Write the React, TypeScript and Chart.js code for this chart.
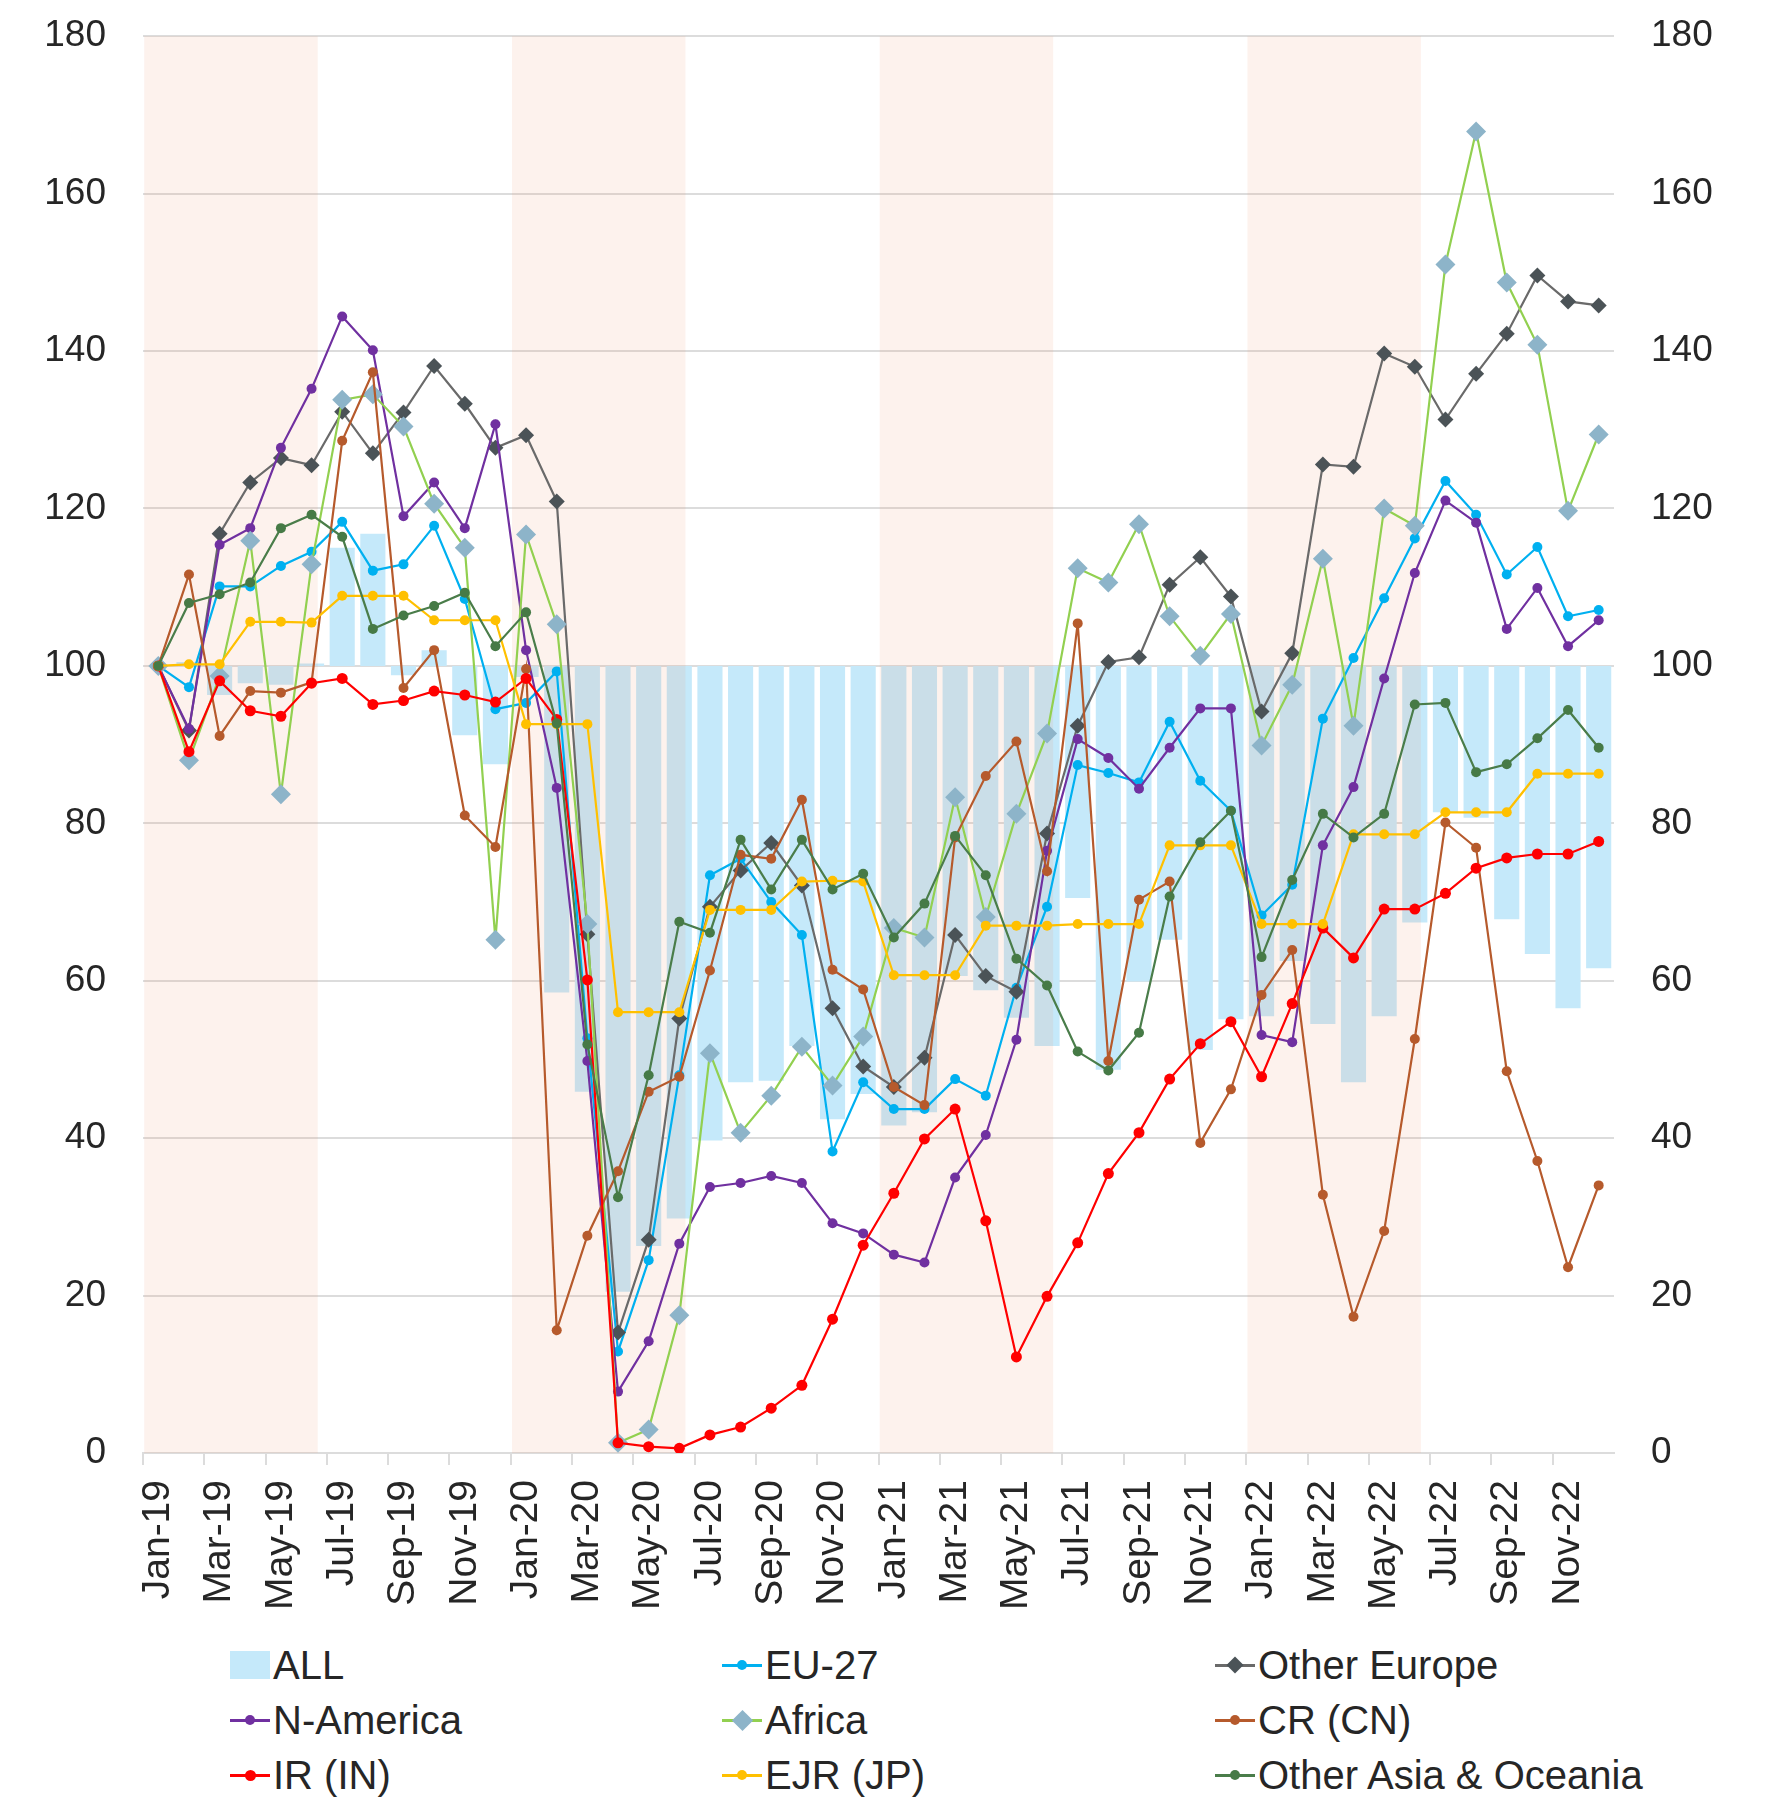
import React, { useEffect, useRef } from 'react';
import Chart from 'chart.js/auto';

// ---------------- DATA ----------------
const months = [
  'Jan-19','Feb-19','Mar-19','Apr-19','May-19','Jun-19','Jul-19','Aug-19','Sep-19','Oct-19','Nov-19','Dec-19',
  'Jan-20','Feb-20','Mar-20','Apr-20','May-20','Jun-20','Jul-20','Aug-20','Sep-20','Oct-20','Nov-20','Dec-20',
  'Jan-21','Feb-21','Mar-21','Apr-21','May-21','Jun-21','Jul-21','Aug-21','Sep-21','Oct-21','Nov-21','Dec-21',
  'Jan-22','Feb-22','Mar-22','Apr-22','May-22','Jun-22','Jul-22','Aug-22','Sep-22','Oct-22','Nov-22','Dec-22',
];

const yTicks = [0, 20, 40, 60, 80, 100, 120, 140, 160, 180];
const barBase = 100;

// shaded half-year bands (first month + length)
const bandStartMonths = ['Jan-19', 'Jan-20', 'Jan-21', 'Jan-22'];
const bandLengthMonths = 6;

const allValues = [
  100, 100.5, 96.3, 97.8, 97.6, 100.3, 115.0, 116.8, 98.8, 102.0, 91.2, 87.5,
  98.6, 58.5, 45.9, 20.5, 26.3, 29.8, 39.7, 47.1, 47.3, 51.7, 42.4, 45.6,
  41.6, 43.3, 60.6, 58.8, 55.3, 51.7, 70.5, 48.7, 59.9, 65.2, 51.2, 55.1,
  55.5, 62.5, 54.5, 47.1, 55.5, 67.4, 81.4, 80.7, 67.8, 63.4, 56.5, 61.6,
];

const eu27 = [
  100, 97.3, 110.1, 110.1, 112.7, 114.5, 118.3, 112.1, 112.9, 117.8, 108.5, 94.5,
  95.3, 99.3, 52.7, 12.9, 24.5, 48.0, 73.4, 75.5, 70.0, 65.8, 38.3, 47.1,
  43.7, 43.7, 47.5, 45.4, 59.1, 69.4, 87.4, 86.4, 85.2, 92.9, 85.4, 81.6,
  68.3, 72.2, 93.3, 101.0, 108.6, 116.2, 123.5, 119.2, 111.6, 115.1, 106.3, 107.1,
];

const otherEurope = [
  100, 91.8, 116.8, 123.3, 126.4, 125.5, 132.3, 127.0, 132.2, 138.1, 133.3, 127.7,
  129.3, 120.9, 65.9, 15.3, 27.1, 55.2, 69.4, 74.0, 77.5, 72.1, 56.5, 49.1,
  46.5, 50.2, 65.8, 60.6, 58.6, 78.7, 92.4, 100.5, 101.1, 110.3, 113.8, 108.8,
  94.2, 101.6, 125.6, 125.3, 139.7, 138.0, 131.3, 137.1, 142.2, 149.6, 146.3, 145.8,
];

const nAmerica = [
  100, 92.0, 115.4, 117.5, 127.7, 135.2, 144.4, 140.1, 119.0, 123.3, 117.5, 130.7,
  102.0, 84.5, 49.8, 7.8, 14.2, 26.6, 33.8, 34.3, 35.2, 34.3, 29.2, 27.9,
  25.2, 24.2, 35.0, 40.4, 52.5, 76.5, 90.7, 88.3, 84.4, 89.6, 94.6, 94.6,
  53.1, 52.2, 77.2, 84.6, 98.4, 111.8, 121.0, 118.2, 104.7, 109.9, 102.5, 105.8,
];

const africa = [
  100, 88.0, 98.7, 115.9, 83.7, 112.9, 133.8, 134.5, 130.4, 120.6, 115.0, 65.2,
  116.7, 105.3, 67.2, 1.3, 3.0, 17.5, 50.8, 40.7, 45.4, 51.6, 46.7, 52.9,
  66.7, 65.5, 83.3, 68.1, 81.2, 91.4, 112.4, 110.6, 118.0, 106.3, 101.3, 106.6,
  89.9, 97.6, 113.6, 92.4, 120.0, 117.8, 151.0, 167.9, 148.7, 140.8, 119.7, 129.4,
];

const crCN = [
  100, 111.6, 91.1, 96.8, 96.6, 97.9, 128.6, 137.3, 97.2, 102.0, 81.0, 77.0,
  99.6, 15.6, 27.6, 35.8, 45.9, 47.8, 61.3, 76.0, 75.5, 83.0, 61.4, 58.9,
  46.5, 44.2, 78.2, 86.0, 90.4, 73.9, 105.4, 49.8, 70.3, 72.6, 39.4, 46.2,
  58.2, 63.9, 32.8, 17.3, 28.2, 52.6, 80.1, 76.9, 48.5, 37.1, 23.6, 34.0,
];

const irIN = [
  100, 89.1, 98.1, 94.3, 93.6, 97.8, 98.4, 95.1, 95.6, 96.8, 96.3, 95.4,
  98.4, 93.2, 60.1, 1.3, 0.8, 0.6, 2.3, 3.3, 5.7, 8.6, 17.0, 26.4,
  33.0, 39.9, 43.7, 29.5, 12.2, 19.9, 26.7, 35.5, 40.7, 47.5, 52.0, 54.8,
  47.8, 57.1, 66.7, 62.9, 69.1, 69.1, 71.1, 74.3, 75.6, 76.1, 76.1, 77.7,
];

const ejrJP = [
  100, 100.2, 100.2, 105.6, 105.6, 105.5, 108.9, 108.9, 108.9, 105.8, 105.8, 105.8,
  92.6, 92.6, 92.6, 56.0, 56.0, 56.0, 69.0, 69.0, 69.0, 72.6, 72.7, 72.6,
  60.7, 60.7, 60.7, 67.0, 67.0, 67.0, 67.2, 67.2, 67.2, 77.2, 77.2, 77.2,
  67.2, 67.2, 67.2, 78.6, 78.6, 78.6, 81.4, 81.4, 81.4, 86.3, 86.3, 86.3,
];

const otherAsiaOceania = [
  100, 108.0, 109.1, 110.6, 117.5, 119.2, 116.4, 104.7, 106.4, 107.6, 109.3, 102.5,
  106.8, 92.7, 51.9, 32.5, 48.0, 67.5, 66.1, 77.9, 71.6, 77.9, 71.6, 73.6,
  65.5, 69.8, 78.4, 73.4, 62.8, 59.4, 51.0, 48.6, 53.4, 70.7, 77.6, 81.6,
  63.0, 72.8, 81.2, 78.2, 81.2, 95.1, 95.3, 86.5, 87.5, 90.8, 94.4, 89.6,
];

// ---------------- STYLES ----------------
const FONT = '"Liberation Sans", Arial, sans-serif';
const TEXT = '#262626';
const GRID = '#DCDCDC';
const BAR_COLOR = 'rgb(197,233,250)';
const BAND_COLOR = 'rgba(235,150,110,0.12)';

type LineStyle = { line: string; point: string; shape: 'circle' | 'rectRot'; r: number };

const lineSeries: { name: string; data: number[]; style: LineStyle }[] = [
  { name: 'EU-27', data: eu27, style: { line: '#00B0F0', point: '#00B0F0', shape: 'circle', r: 5 } },
  { name: 'Other Europe', data: otherEurope, style: { line: '#6A6A6A', point: '#4B5357', shape: 'rectRot', r: 8 } },
  { name: 'N-America', data: nAmerica, style: { line: '#7030A0', point: '#7030A0', shape: 'circle', r: 5 } },
  { name: 'Africa', data: africa, style: { line: '#92D050', point: '#8DB4C9', shape: 'rectRot', r: 10 } },
  { name: 'CR (CN)', data: crCN, style: { line: '#B65A2C', point: '#B65A2C', shape: 'circle', r: 5 } },
  { name: 'IR (IN)', data: irIN, style: { line: '#FF0000', point: '#FF0000', shape: 'circle', r: 5.5 } },
  { name: 'EJR (JP)', data: ejrJP, style: { line: '#FFC000', point: '#FFC000', shape: 'circle', r: 5 } },
  { name: 'Other Asia & Oceania', data: otherAsiaOceania, style: { line: '#4A7D4A', point: '#467A46', shape: 'circle', r: 5 } },
];

// layout (page pixels)
const PAGE_W = 1767;
const PAGE_H = 1802;
const CANVAS_SHIFT = 23; // canvas is lifted so the plot top lands at y=34
const CANVAS_H = 1655;
const PLOT_LEFT = 143;
const PLOT_RIGHT = 1614;
const PLOT_BOTTOM = 1453;

const bandPlugin = {
  id: 'halfYearBands',
  afterDatasetDraw(chart: any, args: any) {
    if (args.index !== 0) return;
    const x = chart.scales.x;
    const { top, bottom } = chart.chartArea;
    const step = x.getPixelForValue(1) - x.getPixelForValue(0);
    const ctx = chart.ctx;
    ctx.save();
    ctx.fillStyle = BAND_COLOR;
    for (const start of bandStartMonths) {
      const i = months.indexOf(start);
      const x0 = x.getPixelForValue(i) - step / 2 + 0.04 * step;
      const x1 = x.getPixelForValue(i + bandLengthMonths - 1) + step / 2 - 0.3 * step;
      ctx.fillRect(x0, top, x1 - x0, bottom - top);
    }
    ctx.restore();
  },
};

function LegendSymbol({ style, isBar }: { style?: LineStyle; isBar?: boolean }) {
  if (isBar) {
    return <div style={{ width: 40, height: 28, background: BAR_COLOR }} />;
  }
  const s = style!;
  const d = s.shape === 'rectRot' ? s.r * 1.5 : s.r * 2;
  return (
    <div style={{ position: 'relative', width: 40, height: 28 }}>
      <div style={{ position: 'absolute', left: 0, top: 13, width: 40, height: 2.5, background: s.line }} />
      <div
        style={{
          position: 'absolute',
          left: 20 - d / 2,
          top: 14 - d / 2,
          width: d,
          height: d,
          background: s.point,
          borderRadius: s.shape === 'circle' ? '50%' : 0,
          transform: s.shape === 'rectRot' ? 'rotate(45deg)' : undefined,
        }}
      />
    </div>
  );
}

const legendColumnsX = [230, 722, 1215];
const legendRowsY = [1665, 1720, 1775];

export default function App() {
  const canvasRef = useRef<HTMLCanvasElement | null>(null);

  useEffect(() => {
    const canvas = canvasRef.current;
    if (!canvas) return;

    const datasets: any[] = [
      {
        type: 'bar',
        label: 'ALL',
        data: allValues.map((v) => [barBase, v]),
        backgroundColor: BAR_COLOR,
        borderWidth: 0,
        barPercentage: 0.82,
        categoryPercentage: 1.0,
        yAxisID: 'y',
        order: 100,
      },
      ...lineSeries.map((s, i) => ({
        type: 'line',
        label: s.name,
        data: s.data,
        borderColor: s.style.line,
        borderWidth: 2.2,
        pointStyle: s.style.shape,
        pointRadius: s.style.r,
        pointBackgroundColor: s.style.point,
        pointBorderColor: s.style.point,
        pointBorderWidth: 0,
        tension: 0,
        fill: false,
        yAxisID: 'y',
        order: lineSeries.length - i,
      })),
    ];

    const yAxisCommon = {
      min: yTicks[0],
      max: yTicks[yTicks.length - 1],
      ticks: {
        stepSize: yTicks[1] - yTicks[0],
        color: TEXT,
        font: { family: FONT, size: 37 },
        padding: 37,
      },
      border: { display: false },
    };

    const chart = new Chart(canvas, {
      data: { labels: months, datasets },
      plugins: [bandPlugin],
      options: {
        animation: false,
        responsive: false,
        devicePixelRatio: 1,
        layout: { padding: { top: 10, left: 0, right: 0, bottom: 0 } },
        plugins: { legend: { display: false }, tooltip: { enabled: false } },
        scales: {
          x: {
            type: 'category',
            offset: true,
            grid: {
              display: true,
              offset: true,
              drawOnChartArea: false,
              drawTicks: true,
              tickLength: 12,
              lineWidth: 2,
              color: (ctx: any) => (ctx.index % 2 === 0 ? GRID : 'rgba(0,0,0,0)'),
            },
            border: { display: true, color: GRID, width: 2 },
            ticks: {
              autoSkip: false,
              minRotation: 90,
              maxRotation: 90,
              padding: 15,
              color: TEXT,
              font: { family: FONT, size: 39 },
              callback: (_v: any, idx: number) => (idx % 2 === 0 ? months[idx] : ''),
            },
            afterFit: (scale: any) => {
              scale.height = CANVAS_H - (PLOT_BOTTOM + CANVAS_SHIFT);
            },
          },
          y: {
            ...yAxisCommon,
            position: 'left',
            grid: { color: GRID, lineWidth: 2, drawTicks: false },
            afterFit: (scale: any) => {
              scale.width = PLOT_LEFT;
            },
          },
          y2: {
            ...yAxisCommon,
            position: 'right',
            grid: { drawOnChartArea: false, drawTicks: false },
            afterFit: (scale: any) => {
              scale.width = PAGE_W - PLOT_RIGHT;
            },
          },
        },
      } as any,
    } as any);

    return () => chart.destroy();
  }, []);

  const legendEntries: { name: string; style?: LineStyle; isBar?: boolean }[] = [
    { name: 'ALL', isBar: true },
    ...lineSeries.map((s) => ({ name: s.name, style: s.style })),
  ];
  const legendOrder = ['ALL', 'EU-27', 'Other Europe', 'N-America', 'Africa', 'CR (CN)', 'IR (IN)', 'EJR (JP)', 'Other Asia & Oceania'];

  return (
    <div style={{ position: 'absolute', left: 0, top: 0, width: PAGE_W, height: PAGE_H, background: '#fff', overflow: 'hidden' }}>
      <canvas
        ref={canvasRef}
        width={PAGE_W}
        height={CANVAS_H}
        style={{ position: 'absolute', left: 0, top: -CANVAS_SHIFT, width: PAGE_W, height: CANVAS_H }}
      />
      {legendOrder.map((name, k) => {
        const e = legendEntries.find((x) => x.name === name)!;
        const col = k % 3;
        const row = Math.floor(k / 3);
        return (
          <div
            key={name}
            style={{
              position: 'absolute',
              left: legendColumnsX[col],
              top: legendRowsY[row] - 23,
              height: 46,
              display: 'flex',
              alignItems: 'center',
              fontFamily: FONT,
              fontSize: 40,
              color: TEXT,
              whiteSpace: 'nowrap',
            }}
          >
            <LegendSymbol style={e.style} isBar={e.isBar} />
            <span style={{ marginLeft: 3 }}>{e.name}</span>
          </div>
        );
      })}
    </div>
  );
}
